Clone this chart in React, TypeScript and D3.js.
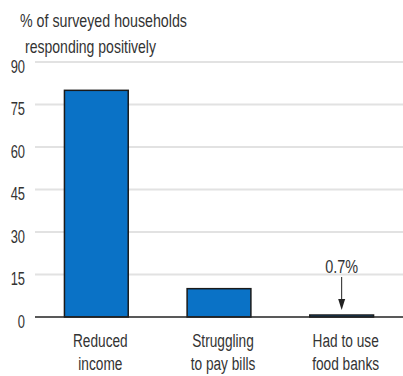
import { useEffect, useRef } from 'react';
import * as d3 from 'd3';

const categories = ['Reduced income', 'Struggling to pay bills', 'Had to use food banks'];
const labelLines = [['Reduced', 'income'], ['Struggling', 'to pay bills'], ['Had to use', 'food banks']];
const values = [80, 10, 0.7];
const yTicks = [0, 15, 30, 45, 60, 75, 90];

const FONT = '"Liberation Sans", Arial, sans-serif';

const App = () => {
  const svgRef = useRef<SVGSVGElement>(null);

  useEffect(() => {
    const svg = d3.select(svgRef.current);
    svg.selectAll('*').remove();
    const width = 403;
    const height = 376;
    const margin = { top: 62, right: 0, bottom: 59, left: 35 };

    const x = d3
      .scaleBand()
      .domain(categories)
      .range([margin.left, width - margin.right])
      .paddingInner(0.48)
      .paddingOuter(0.24);

    const y = d3
      .scaleLinear()
      .domain([0, 90])
      .range([height - margin.bottom, margin.top]);

    // condensed text helper (reference font is a tall narrow sans)
    const label = (tx: number, ty: number, str: string, size: number, sx: number, anchor = 'start') =>
      svg
        .append('text')
        .attr('transform', `translate(${tx},${ty}) scale(${sx},1)`)
        .attr('text-anchor', anchor)
        .style('font-family', FONT)
        .style('font-size', `${size}px`)
        .attr('fill', '#333')
        .text(str);

    // gridlines
    svg
      .append('g')
      .selectAll('line')
      .data(yTicks.filter((t) => t > 0))
      .enter()
      .append('line')
      .attr('x1', margin.left)
      .attr('x2', width)
      .attr('y1', (d) => y(d))
      .attr('y2', (d) => y(d))
      .attr('stroke', '#e2e2e2')
      .attr('stroke-width', 2);

    // y labels
    yTicks.forEach((t) => label(25, y(t) + 10.5, String(t), 19, 0.68, 'end'));

    // bars
    svg
      .append('g')
      .selectAll('rect')
      .data(values)
      .enter()
      .append('rect')
      .attr('x', (d, i) => x(categories[i])!)
      .attr('y', (d) => y(d))
      .attr('width', x.bandwidth())
      .attr('height', (d) => y(0) - y(d))
      .attr('fill', '#0a72c6')
      .attr('stroke', '#1a1a1a')
      .attr('stroke-width', 1.5);

    // baseline
    svg
      .append('line')
      .attr('x1', margin.left)
      .attr('x2', width)
      .attr('y1', y(0))
      .attr('y2', y(0))
      .attr('stroke', '#222')
      .attr('stroke-width', 1.5);

    // category labels
    labelLines.forEach((lines, i) => {
      const cx = x(categories[i])! + x.bandwidth() / 2 + 4;
      lines.forEach((ln, j) => label(cx, 347 + j * 23, ln, 19, 0.72, 'middle'));
    });

    // annotation for food banks
    const cx = x(categories[2])! + x.bandwidth() / 2;
    label(cx, 273, `${values[2]}%`, 19, 0.76, 'middle');
    svg
      .append('line')
      .attr('x1', cx)
      .attr('x2', cx)
      .attr('y1', 277)
      .attr('y2', 304)
      .attr('stroke', '#222')
      .attr('stroke-width', 1);
    svg
      .append('path')
      .attr('d', `M${cx - 3.5},${299}L${cx + 3.5},${299}L${cx},${310}Z`)
      .attr('fill', '#222');

    // axis title
    label(20, 27, '% of surveyed households', 18.5, 0.77);
    label(25, 53, 'responding positively', 18, 0.78);
  }, []);

  return (
    <svg
      ref={svgRef}
      width={403}
      height={376}
      style={{ position: 'absolute', left: 0, top: 0, background: '#fff' }}
    ></svg>
  );
};

export default App;
